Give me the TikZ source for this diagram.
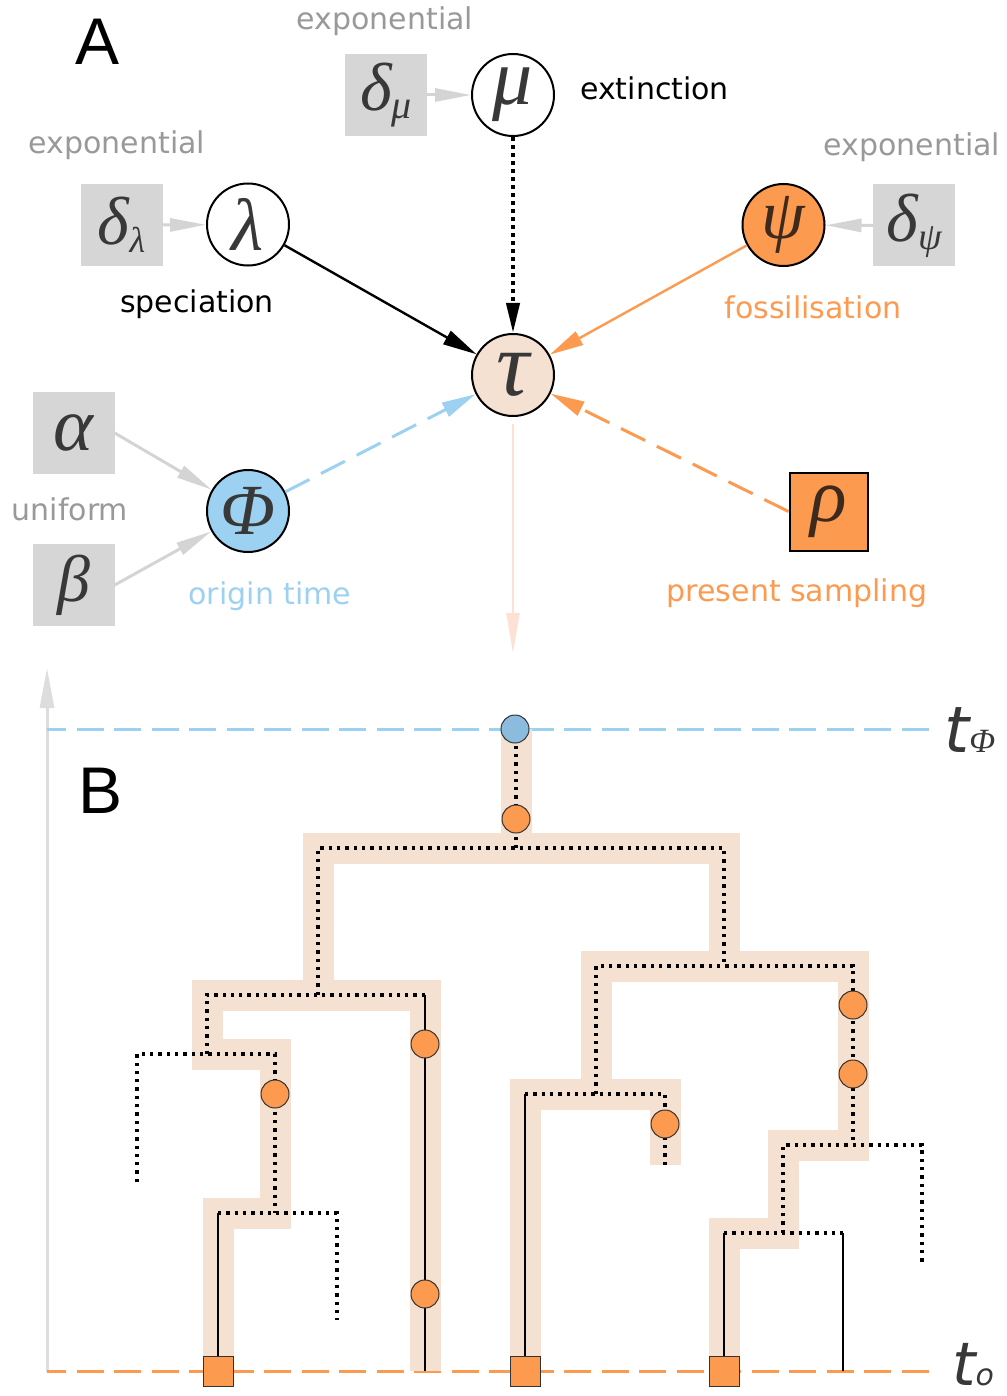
\documentclass[tikz,border=0pt]{standalone}
\usepackage{fontspec}
\setmainfont{DejaVu Sans}
\newfontfamily\grk{Liberation Serif}
\newfontfamily\panelfont{Liberation Sans}
\newfontfamily\timefont{DejaVu Sans}
\usetikzlibrary{arrows.meta}

\definecolor{boxgray}{HTML}{D6D6D6}
\definecolor{labgray}{HTML}{999999}
\definecolor{arrgray}{HTML}{D4D4D4}
\definecolor{axisgray}{HTML}{DDDDDD}
\definecolor{fosorange}{HTML}{FC9A4F}
\definecolor{skyblue}{HTML}{9DD1F2}
\definecolor{rootblue}{HTML}{8BBCDD}
\definecolor{peach}{HTML}{F5E1D1}
\definecolor{paleout}{HTML}{FDE1D5}
\definecolor{glyph}{HTML}{383838}
\definecolor{glyphdark}{HTML}{3E2A1C}

% Greek symbol in serif italic at a given size
\newcommand\gsym[2]{{\grk\itshape\fontsize{#1}{#1}\selectfont #2}}
% symbol with a lowered subscript
\newcommand\gsub[4]{{\grk\itshape\fontsize{#1}{#1}\selectfont #2\raisebox{-0.12em}{\fontsize{#3}{#3}\selectfont #4}}}

\tikzset{
  lab/.style={font=\fontsize{30}{36}\selectfont, inner sep=0pt, anchor=center},
  prior/.style={fill=boxgray, minimum width=82pt, minimum height=82pt, inner sep=0pt, text=glyph},
  param/.style={circle, draw=black, line width=2pt, minimum size=82pt, inner sep=0pt, text=glyph},
  gray arrow/.style={draw=arrgray, line width=3pt, -{Triangle[length=36pt,width=13pt]}},
  main arrow/.style={line width=2.4pt, -{Triangle[length=34pt,width=15pt]}},
  band/.style={draw=peach, line width=31pt, line join=miter, line cap=butt},
  sampled/.style={line width=3.3pt, dash pattern=on 3.3pt off 5pt},
  lineage/.style={line width=2.2pt},
  fossil/.style={circle, fill=fosorange, draw=black!80, line width=1pt, minimum size=28pt, inner sep=0pt},
  extant/.style={fill=fosorange, draw=black!80, line width=1pt, minimum size=30pt, inner sep=0pt},
}

\begin{document}
\begin{tikzpicture}[x=1pt, y=-1pt]
\useasboundingbox (0,0) rectangle (1006,1396);

% ---------- panel A: model graph ----------
\node[font=\panelfont\fontsize{66}{66}\selectfont, inner sep=0pt] (labA) at (98,42) {A};

\node[prior] (dmu) at (386,95) {\gsub{68}{δ}{40}{μ}};
\node[param] (mu) at (513,95) {\gsym{80}{μ}};
\node[lab, anchor=west] (extlab) at (580,88) {extinction};
\node[lab, text=labgray] (expmu) at (385,21) {exponential};

\node[prior] (dlam) at (121.5,225) {\gsub{68}{δ}{36}{λ}};
\node[param] (lam) at (248,224.5) {\gsym{74}{λ}};
\node[lab, text=labgray] (explam) at (117,145) {exponential};
\node[lab] (speclab) at (197,304) {speciation};

\node[param, fill=fosorange, text=glyphdark] (psi) at (783.5,225) {\gsym{70}{ψ}};
\node[prior] (dpsi) at (914,225.5) {\gsub{68}{δ}{38}{ψ}};
\node[lab, text=labgray] (exppsi) at (912,147) {exponential};
\node[lab, text=fosorange] (foslab) at (813,307) {fossilisation};

\node[param, fill=peach] (tau) at (513,375) {\gsym{92}{τ}};

\node[prior] (alpha) at (73.5,433) {\gsym{76}{α}};
\node[prior] (beta) at (73.5,585) {\gsym{66}{β}};
\node[lab, text=labgray] (unilab) at (70,509) {uniform};
\node[param, fill=skyblue] (phi) at (248,511) {\gsym{72}{Φ}};
\node[lab, text=skyblue] (origlab) at (270,596) {origin time};

\node[prior, fill=fosorange, draw=black, line width=2pt, minimum width=78pt, minimum height=78pt, text=glyphdark] (rho) at (828.5,511.5) {\gsym{76}{ρ}};
\node[lab, text=fosorange] (preslab) at (797,593) {present sampling};

% hyperprior arrows
\draw[gray arrow] (dmu.east) -- (mu);
\draw[gray arrow] (dlam.east) -- (lam);
\draw[gray arrow] (dpsi.west) -- (psi);
\draw[gray arrow] (alpha.east) -- (phi);
\draw[gray arrow] (beta.east) -- (phi);

% parameter arrows into the tree
\draw[main arrow, black] (lam) -- (tau);
\draw[main arrow, black, line width=4pt, dash pattern=on 4pt off 4pt, -{Triangle[length=30pt,width=13pt]}] (mu) -- (tau);
\draw[main arrow, fosorange] (psi) -- (tau);
\draw[main arrow, skyblue, line width=3pt, dash pattern=on 27pt off 13pt] (phi) -- (tau);
\draw[main arrow, fosorange, line width=3pt, dash pattern=on 27pt off 13pt] (rho.west) -- (tau);

\coordinate (tauout) at (513,653);
\draw[paleout, line width=2pt, shorten <=7pt, -{Triangle[length=40pt,width=13pt]}] (tau) -- (tauout);

% ---------- panel B: tree ----------
\coordinate (axbot) at (47,1372);
\coordinate (axtop) at (47,668);
\draw[axisgray, line width=3pt, -{Triangle[length=40pt,width=14pt]}] (axbot) -- (axtop);

\node[font=\panelfont\fontsize{66}{66}\selectfont, inner sep=0pt] (labB) at (101,791) {B};

% time lines
\coordinate (phiL) at (47,729);
\coordinate (phiR) at (937,729);
\coordinate (nowL) at (47,1371);
\coordinate (nowR) at (937,1371);
\draw[skyblue, line width=3pt, dash pattern=on 27pt off 10.5pt, dash phase=8pt] (phiL) -- (phiR);
\draw[fosorange, line width=3pt, dash pattern=on 27pt off 10.5pt, dash phase=8pt] (nowL) -- (nowR);
\node[inner sep=0pt, anchor=base west, text=glyph] (tphi) at (944,752)
  {\timefont\itshape\fontsize{64}{64}\selectfont t{\grk\itshape\fontsize{34}{34}\selectfont Φ}};
\node[inner sep=0pt, anchor=base west, text=glyph] (tnow) at (952,1385)
  {\timefont\itshape\fontsize{60}{60}\selectfont t{\fontsize{30}{30}\selectfont o}};

% sampled-tree band
\draw[band] (516,729) -- (516,848);
\draw[band] (318,995) -- (318,848) -- (724,848) -- (724,966);
\draw[band] (218,1371) -- (218,1213) -- (275,1213) -- (275,1054) -- (207,1054) -- (207,995) -- (425,995) -- (425,1371);
\draw[band] (525,1371) -- (525,1094) -- (665,1094) -- (665,1165);
\draw[band] (596,1094) -- (596,966) -- (853,966) -- (853,1145) -- (783,1145) -- (783,1233) -- (724,1233) -- (724,1371);

% unobserved (dotted) lineages
\draw[sampled] (516,729) -- (516,848);
\draw[sampled] (318,995) -- (318,848) -- (724,848) -- (724,966);
\draw[sampled] (425,995) -- (207,995) -- (207,1054);
\draw[sampled] (137,1182) -- (137,1054) -- (275,1054) -- (275,1213);
\draw[sampled] (218,1213) -- (337,1213) -- (337,1320);
\draw[sampled] (596,1094) -- (596,966) -- (853,966) -- (853,1145);
\draw[sampled] (525,1094) -- (665,1094) -- (665,1165);
\draw[sampled] (783,1233) -- (783,1145) -- (922,1145) -- (922,1262);
\draw[sampled] (724,1233) -- (843,1233);

% observed (solid) lineages
\draw[lineage] (425,995) -- (425,1371);
\draw[lineage] (218,1213) -- (218,1371);
\draw[lineage] (525,1094) -- (525,1371);
\draw[lineage] (724,1233) -- (724,1371);
\draw[lineage] (843,1233) -- (843,1371);

% origin and fossil samples
\node[fossil, fill=rootblue] (root) at (515,729) {};
\node[fossil] (f1) at (516,819) {};
\node[fossil] (f2) at (425,1044) {};
\node[fossil] (f3) at (425,1294) {};
\node[fossil] (f4) at (275,1094) {};
\node[fossil] (f5) at (665,1124) {};
\node[fossil] (f6) at (853,1005) {};
\node[fossil] (f7) at (853,1074) {};

% extant samples
\node[extant] (s1) at (218,1371) {};
\node[extant] (s2) at (525,1371) {};
\node[extant] (s3) at (724,1371) {};
\end{tikzpicture}
\end{document}
